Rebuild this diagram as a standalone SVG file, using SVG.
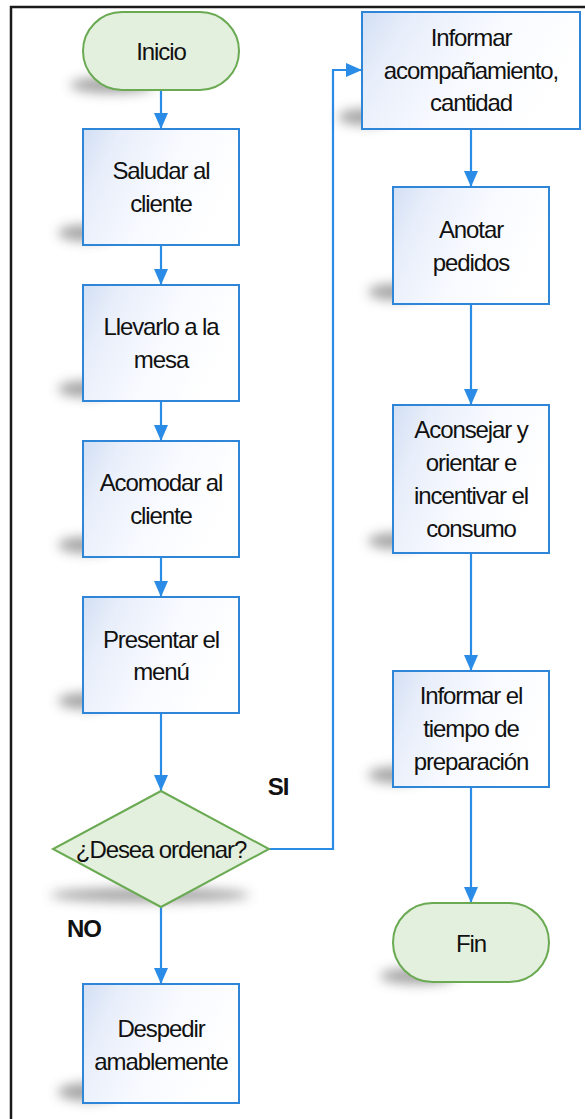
<svg xmlns="http://www.w3.org/2000/svg" width="585" height="1119" viewBox="0 0 585 1119">
  <style>
    .box { fill: url(#boxFill); stroke: #2f86d8; stroke-width: 2; }
    .term { fill: #e4f0de; stroke: #6aaa52; stroke-width: 2; }
    .shadow { fill: #4a4a4a; opacity: 0.5; filter: url(#soft); }
    .lbl { font-family: "Liberation Sans", Arial, sans-serif; font-size: 24px; letter-spacing: -1.1px; fill: #111; text-anchor: middle; }
    .tag { font-family: "Liberation Sans", Arial, sans-serif; font-size: 24px; letter-spacing: -1px; font-weight: bold; fill: #111; text-anchor: middle; }
    .wire { fill: none; stroke: #2b8ce8; stroke-width: 2.2; }
    .frame { fill: none; stroke: #1a1a1a; stroke-width: 2.5; }
  </style>
  <defs>
    <linearGradient id="boxFill" x1="0" y1="0" x2="1" y2="0.35">
      <stop offset="0" stop-color="#d2dff4"/>
      <stop offset="0.22" stop-color="#e8eefa"/>
      <stop offset="0.6" stop-color="#f8faff"/>
      <stop offset="1" stop-color="#ffffff"/>
    </linearGradient>
    <filter id="soft" x="-60%" y="-150%" width="220%" height="400%">
      <feGaussianBlur stdDeviation="6"/>
    </filter>
    <marker id="head" markerUnits="userSpaceOnUse" markerWidth="16" markerHeight="14" refX="16" refY="7" orient="auto">
      <path d="M0,0 L16,7 L0,14 z" fill="#2b8ce8"/>
    </marker>
  </defs>

  <!-- page frame -->
  <path class="frame" d="M11,1119 L11,7 L585,7"/>

  <!-- connectors -->
  <g id="connectors">
    <path class="wire" d="M161,90 L161,129" marker-end="url(#head)"/>
    <path class="wire" d="M161,245 L161,285" marker-end="url(#head)"/>
    <path class="wire" d="M161,401 L161,441" marker-end="url(#head)"/>
    <path class="wire" d="M161,557 L161,597" marker-end="url(#head)"/>
    <path class="wire" d="M161,713 L161,791" marker-end="url(#head)"/>
    <path class="wire" d="M161,907 L161,984" marker-end="url(#head)"/>
    <path class="wire" d="M269,849 L333,849 L333,70 L362,70" marker-end="url(#head)"/>
    <path class="wire" d="M471,129 L471,187" marker-end="url(#head)"/>
    <path class="wire" d="M471,304 L471,405" marker-end="url(#head)"/>
    <path class="wire" d="M471,553 L471,671" marker-end="url(#head)"/>
    <path class="wire" d="M471,787 L471,903" marker-end="url(#head)"/>
    <text class="tag" x="278" y="795">SI</text>
    <text class="tag" x="84" y="937">NO</text>
  </g>

  <!-- left column -->
  <g id="inicio">
    <ellipse class="shadow" cx="112" cy="85" rx="42" ry="8"/>
    <rect class="term" x="83" y="12" width="156" height="78" rx="39" ry="39"/>
    <text class="lbl" x="161" y="60">Inicio</text>
  </g>

  <g id="saludar">
    <ellipse class="shadow" cx="86" cy="233" rx="28" ry="8"/>
    <rect class="box" x="83" y="129" width="156" height="116"/>
    <text class="lbl" x="161" y="179">Saludar al</text>
    <text class="lbl" x="161" y="212">cliente</text>
  </g>

  <g id="llevar">
    <ellipse class="shadow" cx="86" cy="389" rx="28" ry="8"/>
    <rect class="box" x="83" y="285" width="156" height="116"/>
    <text class="lbl" x="161" y="335">Llevarlo a la</text>
    <text class="lbl" x="161" y="368">mesa</text>
  </g>

  <g id="acomodar">
    <ellipse class="shadow" cx="86" cy="545" rx="28" ry="8"/>
    <rect class="box" x="83" y="441" width="156" height="116"/>
    <text class="lbl" x="161" y="491">Acomodar al</text>
    <text class="lbl" x="161" y="524">cliente</text>
  </g>

  <g id="presentar">
    <ellipse class="shadow" cx="86" cy="701" rx="28" ry="8"/>
    <rect class="box" x="83" y="597" width="156" height="116"/>
    <text class="lbl" x="161" y="648">Presentar el</text>
    <text class="lbl" x="161" y="680">menú</text>
  </g>

  <g id="decision">
    <ellipse class="shadow" cx="150" cy="895" rx="100" ry="7" opacity="0.4"/>
    <polygon class="term" points="161,791 269,849 161,907 53,849"/>
    <text class="lbl" x="161" y="858">¿Desea ordenar?</text>
  </g>

  <g id="despedir">
    <ellipse class="shadow" cx="88" cy="1092" rx="30" ry="9"/>
    <rect class="box" x="83" y="984" width="156" height="119"/>
    <text class="lbl" x="161" y="1037">Despedir</text>
    <text class="lbl" x="161" y="1070">amablemente</text>
  </g>

  <!-- right column -->
  <g id="acompanamiento">
    <ellipse class="shadow" cx="366" cy="117" rx="28" ry="8"/>
    <rect class="box" x="362" y="12" width="218" height="117"/>
    <text class="lbl" x="471" y="46">Informar</text>
    <text class="lbl" x="471" y="79">acompañamiento,</text>
    <text class="lbl" x="471" y="111">cantidad</text>
  </g>

  <g id="anotar">
    <ellipse class="shadow" cx="396" cy="292" rx="28" ry="8"/>
    <rect class="box" x="393" y="187" width="156" height="117"/>
    <text class="lbl" x="471" y="238">Anotar</text>
    <text class="lbl" x="471" y="271">pedidos</text>
  </g>

  <g id="aconsejar">
    <ellipse class="shadow" cx="396" cy="541" rx="28" ry="8"/>
    <rect class="box" x="393" y="405" width="156" height="148"/>
    <text class="lbl" x="471" y="438">Aconsejar y</text>
    <text class="lbl" x="471" y="471">orientar e</text>
    <text class="lbl" x="471" y="504">incentivar el</text>
    <text class="lbl" x="471" y="537">consumo</text>
  </g>

  <g id="tiempo">
    <ellipse class="shadow" cx="396" cy="775" rx="28" ry="8"/>
    <rect class="box" x="393" y="671" width="156" height="116"/>
    <text class="lbl" x="471" y="704">Informar el</text>
    <text class="lbl" x="471" y="737">tiempo de</text>
    <text class="lbl" x="471" y="770">preparación</text>
  </g>

  <g id="fin">
    <ellipse class="shadow" cx="418" cy="976" rx="38" ry="8"/>
    <rect class="term" x="393" y="903" width="156" height="79" rx="39.5" ry="39.5"/>
    <text class="lbl" x="471" y="952">Fin</text>
  </g>
</svg>
